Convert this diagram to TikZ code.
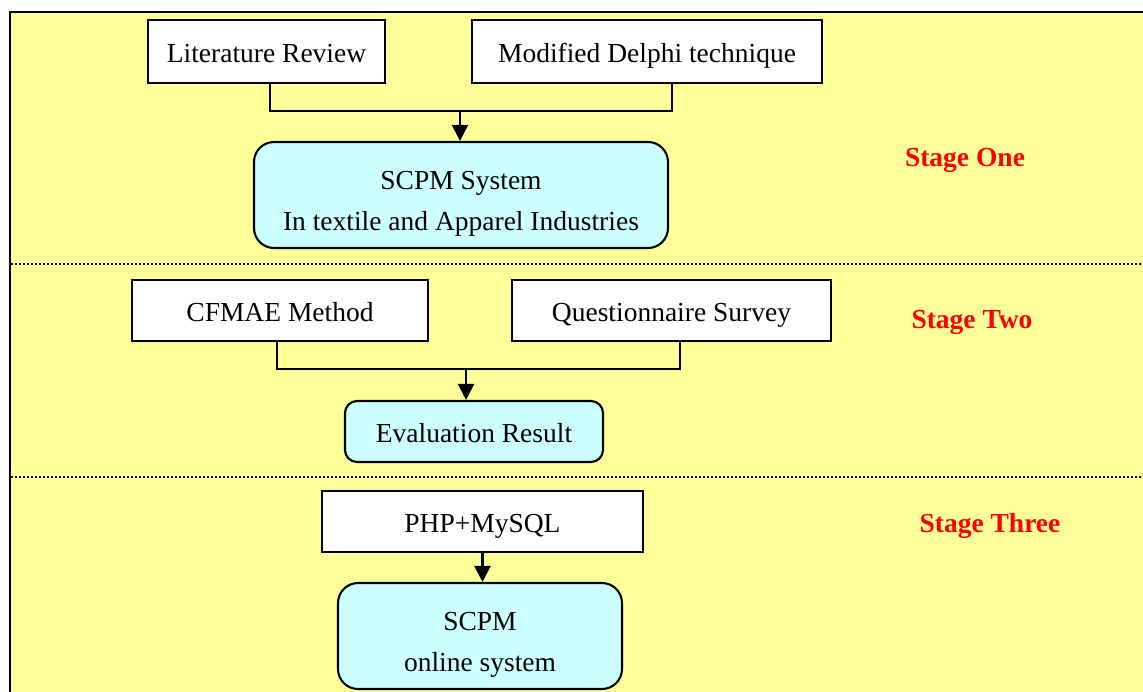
\documentclass[tikz,border=0pt]{standalone}
\usepackage{fontspec}
\setmainfont{Liberation Serif}
\usetikzlibrary{arrows.meta}
\definecolor{panel}{HTML}{FFFF99}
\definecolor{result}{HTML}{CCFFFF}
% struts that fix the height of the first and the depth of the last line
\newcommand\mytopstrut{\rule{0pt}{36pt}}
\newcommand\mybotstrut{\rule[-3pt]{0pt}{3pt}}
\tikzset{
  every node/.style={font=\fontsize{27.5}{41}\selectfont, inner sep=0pt},
  oneline/.style={text height=26pt, text depth=4pt},
  source/.style={draw, line width=2.3pt, fill=white, rectangle, oneline},
  outcome/.style={draw, line width=2.1pt, fill=result, rounded corners=#1, align=center},
  outcome/.default=20pt,
  link/.style={line width=2.1pt},
  feed/.style={line width=2.1pt, -{Triangle[width=16pt,length=16pt]}},
  divider/.style={line width=1.6pt, dash pattern=on 1.6pt off 2.4pt},
  stagelabel/.style={text=red, font=\fontsize{27.5}{33}\selectfont\bfseries},
}
\begin{document}
\begin{tikzpicture}[x=1pt, y=-1pt]
  \useasboundingbox (0,0) rectangle (1143,691);
  \clip (0,0) rectangle (1143,691);
  \fill[white] (0,0) rectangle (1143,691);
  % outer panel
  \draw[line width=2.8pt, fill=panel] (10,12) rectangle (1160,710);

  % stage separators
  \draw[divider] (11,264) -- (1143,264);
  \draw[divider] (11,477) -- (1143,477);

  % stage one
  \node[source, minimum width=237pt, minimum height=63pt] (lit) at (266.5,51.5) {Literature Review};
  \node[source, minimum width=350pt, minimum height=63pt] (del) at (647,51.5) {Modified Delphi technique};
  \node[outcome, minimum width=414pt, minimum height=106pt] (scpm) at (461,195)
    {\mytopstrut SCPM System\\In textile and Apparel Industries\mybotstrut};
  \coordinate (j1) at (460,111);
  \coordinate (l1) at (270,0);
  \coordinate (r1) at (672,0);
  \draw[link] (lit.south -| l1) -- (l1 |- j1) -- (r1 |- j1) -- (del.south -| r1);
  \draw[feed] (j1) -- (scpm.north -| j1);
  \node[stagelabel] (s1) at (965,160) {Stage One};

  % stage two
  \node[source, minimum width=296pt, minimum height=61pt] (cfm) at (280,310.5) {CFMAE Method};
  \node[source, minimum width=319pt, minimum height=61pt] (qs) at (671.5,310.5) {Questionnaire Survey};
  \node[outcome=12pt, oneline, minimum width=258pt, minimum height=61pt] (eval) at (474,431.5) {Evaluation Result};
  \coordinate (j2) at (466,369);
  \coordinate (l2) at (277,0);
  \coordinate (r2) at (680,0);
  \draw[link] (cfm.south -| l2) -- (l2 |- j2) -- (r2 |- j2) -- (qs.south -| r2);
  \draw[feed] (j2) -- (eval.north -| j2);
  \node[stagelabel] (s2) at (972,322) {Stage Two};

  % stage three
  \node[source, minimum width=321pt, minimum height=61pt] (php) at (482.5,521.5) {PHP+MySQL};
  \node[outcome, minimum width=284pt, minimum height=106pt] (online) at (480,636)
    {\mytopstrut SCPM\\online system\mybotstrut};
  \coordinate (j3) at (482.5,0);
  \draw[feed] (php.south -| j3) -- (online.north -| j3);
  \node[stagelabel] (s3) at (990,526) {Stage Three};
\end{tikzpicture}
\end{document}
